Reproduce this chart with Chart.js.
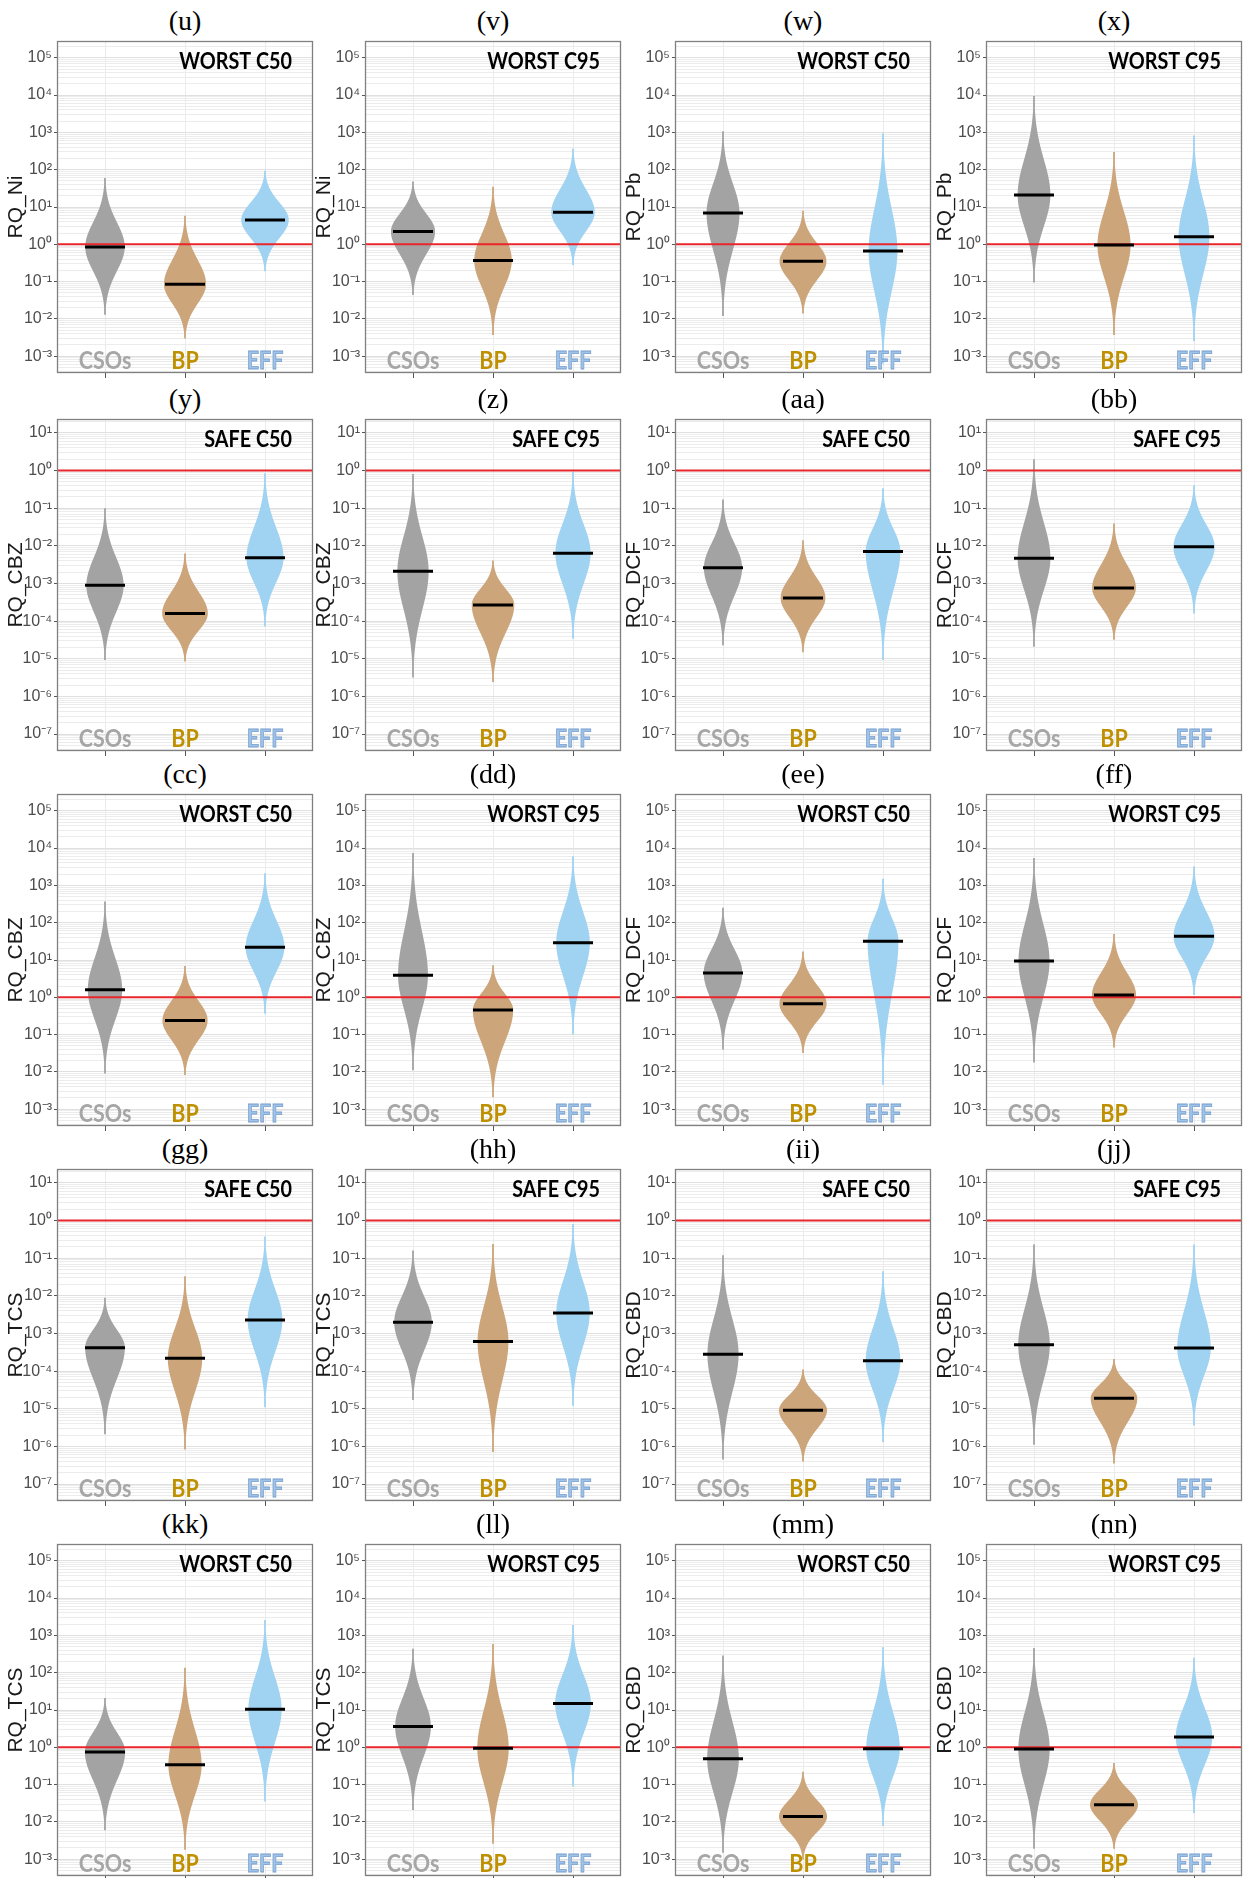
<!DOCTYPE html>
<html>
<head>
<meta charset="utf-8">
<script src="https://cdn.jsdelivr.net/npm/chart.js@4.4.1/dist/chart.umd.min.js"></script>
<style>
  body { margin: 0; background: #fff; }
  #page { position: relative; width: 1245px; height: 1878px; overflow: hidden; background: #fff; }
  .tag { position: absolute; width: 256px; text-align: center; font-family: "Liberation Serif", "Times New Roman", serif; font-size: 28px; line-height: 30px; color: #000; }
  canvas { position: absolute; }
</style>
</head>
<body>
<div id="page"></div>
<script>
// ---- data ----
const groups = ["CSOs", "BP", "EFF"];
const tags = ["(u)", "(v)", "(w)", "(x)", "(y)", "(z)", "(aa)", "(bb)", "(cc)", "(dd)",
              "(ee)", "(ff)", "(gg)", "(hh)", "(ii)", "(jj)", "(kk)", "(ll)", "(mm)", "(nn)"];
const yLabels = ["RQ_Ni", "RQ_Ni", "RQ_Pb", "RQ_Pb",
                 "RQ_CBZ", "RQ_CBZ", "RQ_DCF", "RQ_DCF",
                 "RQ_CBZ", "RQ_CBZ", "RQ_DCF", "RQ_DCF",
                 "RQ_TCS", "RQ_TCS", "RQ_CBD", "RQ_CBD",
                 "RQ_TCS", "RQ_TCS", "RQ_CBD", "RQ_CBD"];
const scenarios = ["WORST C50", "WORST C95", "WORST C50", "WORST C95",
                   "SAFE C50", "SAFE C95", "SAFE C50", "SAFE C95",
                   "WORST C50", "WORST C95", "WORST C50", "WORST C95",
                   "SAFE C50", "SAFE C95", "SAFE C50", "SAFE C95",
                   "WORST C50", "WORST C95", "WORST C50", "WORST C95"];
// y axis extents (decades) for the two scenario types
const worstRange = [-3.45, 5.45];
const safeRange = [-7.45, 1.37];
const threshold = 1;

// median RQ per panel: [CSOs, BP, EFF]
const medians = [
  [0.85, 0.085, 4.5], [2.2, 0.37, 7.2], [6.9, 0.35, 0.66], [21, 0.96, 1.6],
  [9.0e-4, 1.6e-4, 4.8e-3], [2.1e-3, 2.7e-4, 6.4e-3], [2.6e-3, 4.1e-4, 7.1e-3], [4.7e-3, 7.6e-4, 9.4e-3],
  [1.6, 0.24, 22], [3.9, 0.46, 29], [4.5, 0.67, 32], [9.4, 1.15, 43],
  [4.2e-4, 2.2e-4, 2.3e-3], [2.0e-3, 6.1e-4, 3.5e-3], [2.8e-4, 9.2e-6, 1.9e-4], [5.0e-4, 1.9e-5, 4.1e-4],
  [0.75, 0.34, 10.5], [3.6, 0.94, 15], [0.49, 0.014, 0.91], [0.9, 0.029, 1.9]
];
// lowest RQ per panel
const minima = [
  [1.3e-2, 3.0e-3, 0.19], [0.044, 3.7e-3, 0.28], [0.012, 0.014, 6.3e-4], [0.095, 3.7e-3, 2.5e-3],
  [9.3e-6, 8.5e-6, 7.2e-5], [3.2e-6, 2.4e-6, 3.4e-5], [2.3e-5, 1.5e-5, 9.3e-6], [2.1e-5, 3.2e-5, 1.6e-4],
  [9.1e-3, 8.3e-3, 0.36], [0.011, 2.1e-3, 0.1], [0.04, 0.032, 4.5e-3], [0.018, 0.045, 1.15],
  [2.1e-6, 8.3e-7, 1.1e-5], [1.7e-5, 7.1e-7, 1.2e-5], [4.5e-7, 4.0e-7, 1.3e-6], [1.1e-6, 3.5e-7, 3.6e-6],
  [6.0e-3, 1.8e-3, 0.035], [0.021, 2.6e-3, 0.089], [1.5e-3, 1.0e-3, 7.8e-3], [1.9e-3, 1.9e-3, 0.017]
];
// highest RQ per panel
const maxima = [
  [60, 5.8, 93], [48, 35, 370], [1070, 7.9, 950], [9500, 300, 830],
  [0.1, 6.3e-3, 0.85], [0.81, 4.1e-3, 0.91], [0.17, 0.014, 0.34], [2.0, 0.039, 0.41],
  [370, 6.9, 2100], [7400, 7.2, 6000], [250, 17, 1500], [5400, 50, 3200],
  [8.9e-3, 0.033, 0.38], [0.16, 0.24, 0.81], [0.12, 1.1e-4, 0.045], [0.23, 2.1e-4, 0.23],
  [21, 135, 2600], [440, 590, 1900], [290, 0.22, 480], [460, 0.38, 250]
];

// ---- layout / style ----
const colLeft = [57, 365, 675, 986];
const rowTop = [41, 419, 794, 1169, 1544];
const frameW = 256, frameH = 332, axisW = 57;
const fillColors = ["#A3A3A3", "#CDA57A", "#A0D3F2"];
const labelColors = ["#A6A6A6", "#BF9000", "#9DC3E6"];
const sansFont = "'Liberation Sans', Arial, sans-serif";

const supMap = {"-": "\u207B", "0": "\u2070", "1": "\u00B9", "2": "\u00B2", "3": "\u00B3",
  "4": "\u2074", "5": "\u2075", "6": "\u2076", "7": "\u2077", "8": "\u2078", "9": "\u2079"};
const sup = (e) => "10" + String(e).split("").map(c => supMap[c]).join("");

// draw text squeezed horizontally (Calibri-like width)
const narrowText = (ctx, txt, x, y, sx, stroke) => {
  ctx.save();
  ctx.translate(x, y);
  ctx.scale(sx, 1);
  ctx.fillText(txt, 0, 0);
  if (stroke) ctx.strokeText(txt, 0, 0);
  ctx.restore();
};

// beeswarm-like spindle for each group, positioned through the chart scales
const violinPlugin = {
  id: "violins",
  beforeDatasetsDraw(chart) {
    const p = chart.options.plugins.panelDeco.p;
    const {ctx, chartArea, scales: {x, y}} = chart;
    ctx.save();
    ctx.beginPath();
    ctx.rect(chartArea.left, chartArea.top, chartArea.right - chartArea.left, chartArea.bottom - chartArea.top);
    ctx.clip();
    groups.forEach((g, j) => {
      const a = Math.log10(minima[p][j]), m = Math.log10(medians[p][j]), b = Math.log10(maxima[p][j]);
      const cx = x.getPixelForValue(j + 1);
      const W = Math.min(24, 21 * Math.pow(3.3 / (b - a), 0.6));
      const sUp = (b - m) / 2.8, sDn = (m - a) / 2.8;
      const pts = [];
      const n = 200;
      for (let k = 0; k <= n; k++) {
        const v = a + (b - a) * k / n;
        const z = v < m ? (v - m) / sDn : (v - m) / sUp;
        const w = Math.max(0.9, W * Math.exp(-0.5 * z * z));
        pts.push([y.getPixelForValue(Math.pow(10, v)), w]);
      }
      ctx.beginPath();
      pts.forEach(([py, w], k) => k ? ctx.lineTo(cx + w, py) : ctx.moveTo(cx + w, py));
      for (let k = pts.length - 1; k >= 0; k--) ctx.lineTo(cx - pts[k][1], pts[k][0]);
      ctx.closePath();
      ctx.fillStyle = fillColors[j];
      ctx.fill();
    });
    ctx.restore();
  },
  afterDatasetsDraw(chart) {
    const p = chart.options.plugins.panelDeco.p;
    const {ctx, chartArea, scales: {x}} = chart;
    ctx.save();
    // scenario header
    ctx.font = "bold 23px Lato, 'Open Sans', sans-serif";
    ctx.fillStyle = "#000";
    ctx.textAlign = "right";
    ctx.textBaseline = "middle";
    narrowText(ctx, scenarios[p], chartArea.right - 21, chartArea.top + 21, 0.86, false);
    // group names inside the plot
    ctx.font = "bold 25px Lato, 'Open Sans', sans-serif";
    ctx.textAlign = "center";
    ctx.textBaseline = "alphabetic";
    groups.forEach((g, j) => {
      const cx = x.getPixelForValue(j + 1);
      ctx.fillStyle = labelColors[j];
      ctx.lineWidth = 0.8;
      ctx.strokeStyle = "#7A9FD0";
      narrowText(ctx, g, cx, chartArea.bottom - 4, 0.86, j === 2);
    });
    // panel frame
    ctx.strokeStyle = "#808080";
    ctx.lineWidth = 1.3;
    ctx.strokeRect(chartArea.left + 0.5, chartArea.top + 0.5,
      chartArea.right - chartArea.left - 1, chartArea.bottom - chartArea.top - 1);
    ctx.restore();
  }
};

const page = document.getElementById("page");

const makePanel = (p) => {
  const r = Math.floor(p / 4), c = p % 4;
  const isWorst = scenarios[p].startsWith("WORST");
  const range = isWorst ? worstRange : safeRange;

  const tag = document.createElement("div");
  tag.className = "tag";
  tag.textContent = tags[p];
  tag.style.left = colLeft[c] + "px";
  tag.style.top = (rowTop[r] - 35) + "px";
  page.appendChild(tag);

  const cv = document.createElement("canvas");
  cv.width = axisW + frameW + 2;
  cv.height = frameH + 8;
  cv.style.left = (colLeft[c] - axisW) + "px";
  cv.style.top = (rowTop[r] - 2) + "px";
  page.appendChild(cv);

  new Chart(cv, {
    type: "scatter",
    data: {
      datasets: [
        {
          type: "scatter",
          data: groups.map((g, j) => ({x: j + 1, y: medians[p][j]})),
          pointStyle: "line", pointRadius: 20, pointHoverRadius: 20,
          borderColor: "#000", borderWidth: 3, order: 0
        },
        {
          type: "line",
          data: [{x: 0.4, y: threshold}, {x: 3.6, y: threshold}],
          borderColor: "#E8262B", borderWidth: 2, pointRadius: 0, order: 1
        }
      ]
    },
    options: {
      responsive: false,
      animation: false,
      devicePixelRatio: 1,
      layout: {autoPadding: false, padding: {top: 2, right: 2, left: 0, bottom: 0}},
      plugins: {legend: {display: false}, tooltip: {enabled: false}, panelDeco: {p: p}},
      scales: {
        x: {
          type: "linear", min: 0.4, max: 3.6,
          afterBuildTicks: s => { s.ticks = [1, 2, 3].map(v => ({value: v})); },
          afterFit: s => { s.height = 6; },
          ticks: {display: false},
          grid: {color: "#EBEBEB", lineWidth: 1, drawTicks: true, tickLength: 5, tickColor: "#555"},
          border: {display: false}
        },
        y: {
          type: "logarithmic",
          min: Math.pow(10, range[0]), max: Math.pow(10, range[1]),
          afterBuildTicks: s => {
            const t = [];
            for (let e = Math.floor(range[0]); e <= Math.ceil(range[1]); e++) {
              for (let k = 1; k <= 9; k++) {
                const v = k * Math.pow(10, e);
                if (v >= s.min && v <= s.max) t.push({value: v, maj: k === 1, e: e});
              }
            }
            s.ticks = t;
          },
          afterFit: s => { s.width = axisW; s.paddingTop = 0; s.paddingBottom = 0; },
          ticks: {
            autoSkip: false, padding: 2, color: "#4D4D4D",
            font: {family: sansFont, size: 16},
            callback: (v, i, t) => t[i].maj ? sup(t[i].e) : ""
          },
          grid: {
            color: ctx => ctx.tick && ctx.tick.maj ? "#E0E0E0" : "#ECECEC",
            tickColor: ctx => ctx.tick && ctx.tick.maj ? "#555" : "rgba(0,0,0,0)",
            tickLength: 3
          },
          border: {display: false},
          title: {display: true, text: yLabels[p], color: "#1A1A1A", font: {family: sansFont, size: 21}}
        }
      }
    },
    plugins: [violinPlugin]
  });
};

for (let p = 0; p < tags.length; p++) makePanel(p);
</script>
</body>
</html>
